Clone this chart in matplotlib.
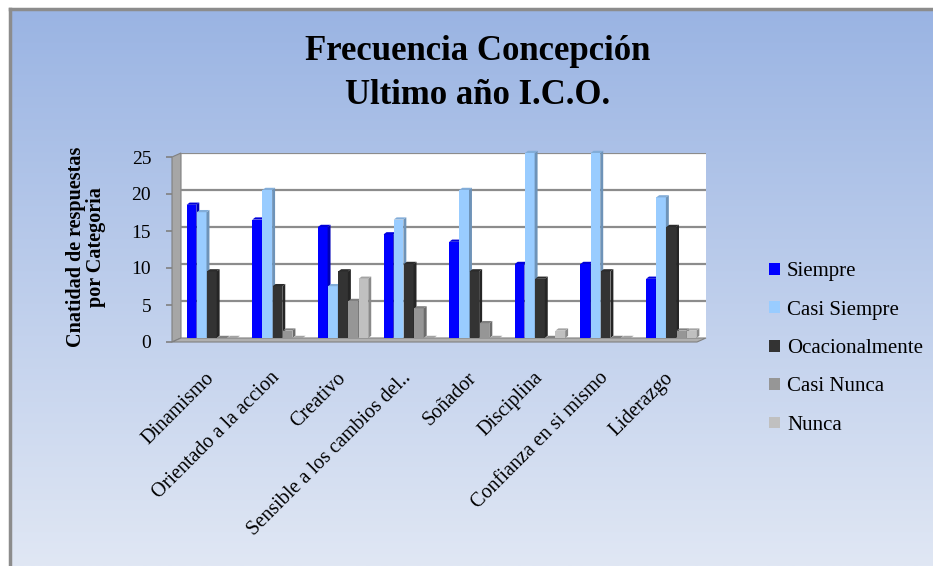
import numpy as np
import matplotlib
matplotlib.use("Agg")
import matplotlib.pyplot as plt
import matplotlib.transforms as mtrans
from matplotlib.patches import Polygon
from matplotlib.colors import to_rgb

categories = ["Dinamismo", "Orientado a la accion", "Creativo",
              "Sensible a los cambios del..", "Soñador", "Disciplina",
              "Confianza en si mismo", "Liderazgo"]
series_names = ["Siempre", "Casi Siempre", "Ocacionalmente", "Casi Nunca", "Nunca"]
siempre = [18, 16, 15, 14, 13, 10, 10, 8]
casi_siempre = [17, 20, 7, 16, 20, 25, 25, 19]
ocacionalmente = [9, 7, 9, 10, 9, 8, 9, 15]
casi_nunca = [0, 1, 5, 4, 2, 0, 0, 1]
nunca = [0, 0, 8, 0, 0, 1, 0, 1]
yticks = [0, 5, 10, 15, 20, 25]

series = [siempre, casi_siempre, ocacionalmente, casi_nunca, nunca]
colors = ["#0000ff", "#99ccff", "#333333", "#969696", "#c0c0c0"]

W, H = 933, 566
fig = plt.figure(figsize=(W / 100, H / 100), dpi=100)
fig.patch.set_facecolor("white")

# gradient background panel
bg = fig.add_axes([10 / W, 0, 1 - 10 / W, 1 - 9 / H])
top = np.array(to_rgb("#9ab4e3"))
bot = np.array(to_rgb("#e0e7f4"))
t = np.linspace(0, 1, 256)[:, None]
grad = top[None, :] * (1 - t) + bot[None, :] * t
bg.imshow(grad[:, None, :], aspect="auto", extent=[0, 1, 0, 1])
bg.set_xlim(0, 1)
bg.set_ylim(0, 1)
bg.set_axis_off()
bg.plot([0, 0], [0, 1], color="#8c8c8c", lw=2.5, transform=bg.transAxes, clip_on=False)
bg.plot([0, 1], [1, 1], color="#8c8c8c", lw=2.5, transform=bg.transAxes, clip_on=False)

serif = "Liberation Serif"

fig.text(478 / W, 1 - 51 / H, "Frecuencia Concepción", ha="center", va="center",
         fontsize=25, fontweight="bold", family=serif)
fig.text(478 / W, 1 - 96 / H, "Ultimo año I.C.O.", ha="center", va="center",
         fontsize=25, fontweight="bold", family=serif)

# plot axes (back wall)
x0, x1 = 181, 706
y0, y1 = 338, 153
ax = fig.add_axes([x0 / W, 1 - y0 / H, (x1 - x0) / W, (y0 - y1) / H])
ax.set_facecolor("white")
ax.set_xlim(0, len(categories))
ax.set_ylim(0, 25)
ax.set_zorder(2)

# 3D walls (left wall and floor)
dxw, dyw = 9 / (x1 - x0), 4 / (y0 - y1)
left_wall = Polygon([(-dxw, -dyw), (0, 0), (0, 1), (-dxw, 1 - dyw)], closed=True,
                    transform=ax.transAxes, facecolor="#a6a6a6", edgecolor="#808080",
                    lw=0.8, clip_on=False, zorder=0)
ax.add_patch(left_wall)
floor = Polygon([(-dxw, -dyw), (1 - dxw, -dyw), (1, 0), (0, 0)], closed=True,
                transform=ax.transAxes, facecolor="#b0b0b0", edgecolor="#808080",
                lw=0.8, clip_on=False, zorder=0)
ax.add_patch(floor)

for v in yticks[1:]:
    ax.axhline(v, color="#8c8c8c", lw=1.6, zorder=1)

for s in ["top", "right", "bottom", "left"]:
    ax.spines[s].set_visible(False)

bw = 0.155
depth_x = 0.045
depth_y = 0.3
xc = np.arange(len(categories)) + 0.47


def darker(c, f=0.7):
    r, g, b = to_rgb(c)
    return (r * f, g * f, b * f)


for i, (vals, c) in enumerate(zip(series, colors)):
    xs = xc + (i - 2) * bw
    bars = ax.bar(xs, vals, width=bw * 0.95, color=c, edgecolor="none", zorder=3 + i,
                  label=series_names[i])
    for b in bars:
        b.set_clip_on(False)
    for xx, v in zip(xs, vals):
        right = xx + bw * 0.95 / 2
        left = xx - bw * 0.95 / 2
        side = Polygon([(right, 0), (right + depth_x, depth_y), (right + depth_x, v + depth_y),
                        (right, v)], closed=True, facecolor=darker(c, 0.72),
                       edgecolor="none", zorder=3 + i, clip_on=False)
        ax.add_patch(side)
        cap = Polygon([(left, v), (right, v), (right + depth_x, v + depth_y),
                       (left + depth_x, v + depth_y)], closed=True,
                      facecolor=darker(c, 0.85), edgecolor="none", zorder=3 + i,
                      clip_on=False)
        ax.add_patch(cap)

ax.set_yticks(yticks)
ax.set_yticklabels([str(v) for v in yticks], family=serif, fontsize=14)
ax.tick_params(axis="y", length=4, color="#808080", pad=11, width=1.2)
off = mtrans.ScaledTranslation(-9 / 100, -4 / 100, fig.dpi_scale_trans)
for lbl in ax.get_yticklabels():
    lbl.set_transform(lbl.get_transform() + off)
for tk in ax.yaxis.get_major_ticks():
    tk.tick1line.set_transform(tk.tick1line.get_transform() + off)

ax.set_xticks(xc)
ax.set_xticklabels(categories, rotation=45, ha="right", va="top",
                   rotation_mode="anchor", family=serif, fontsize=14.5)
ax.tick_params(axis="x", length=0, pad=22)
offx = mtrans.ScaledTranslation(-7 / 100, 0, fig.dpi_scale_trans)
for lbl in ax.get_xticklabels():
    lbl.set_transform(lbl.get_transform() + offx)

fig.text(86 / W, 1 - 247 / H, "Cnatidad de respuestas\npor Categoria", rotation=90,
         ha="center", va="center", fontsize=14.5, fontweight="bold", family=serif,
         linespacing=1.0)

leg = ax.legend(loc="upper left", bbox_to_anchor=(761 / W, 1 - 254 / H),
                bbox_transform=fig.transFigure, frameon=False,
                prop={"family": serif, "size": 15}, handlelength=0.5, handleheight=0.5,
                handletextpad=0.35, labelspacing=0.93, borderaxespad=0)

fig.savefig("out.png", dpi=100, facecolor=fig.get_facecolor())
